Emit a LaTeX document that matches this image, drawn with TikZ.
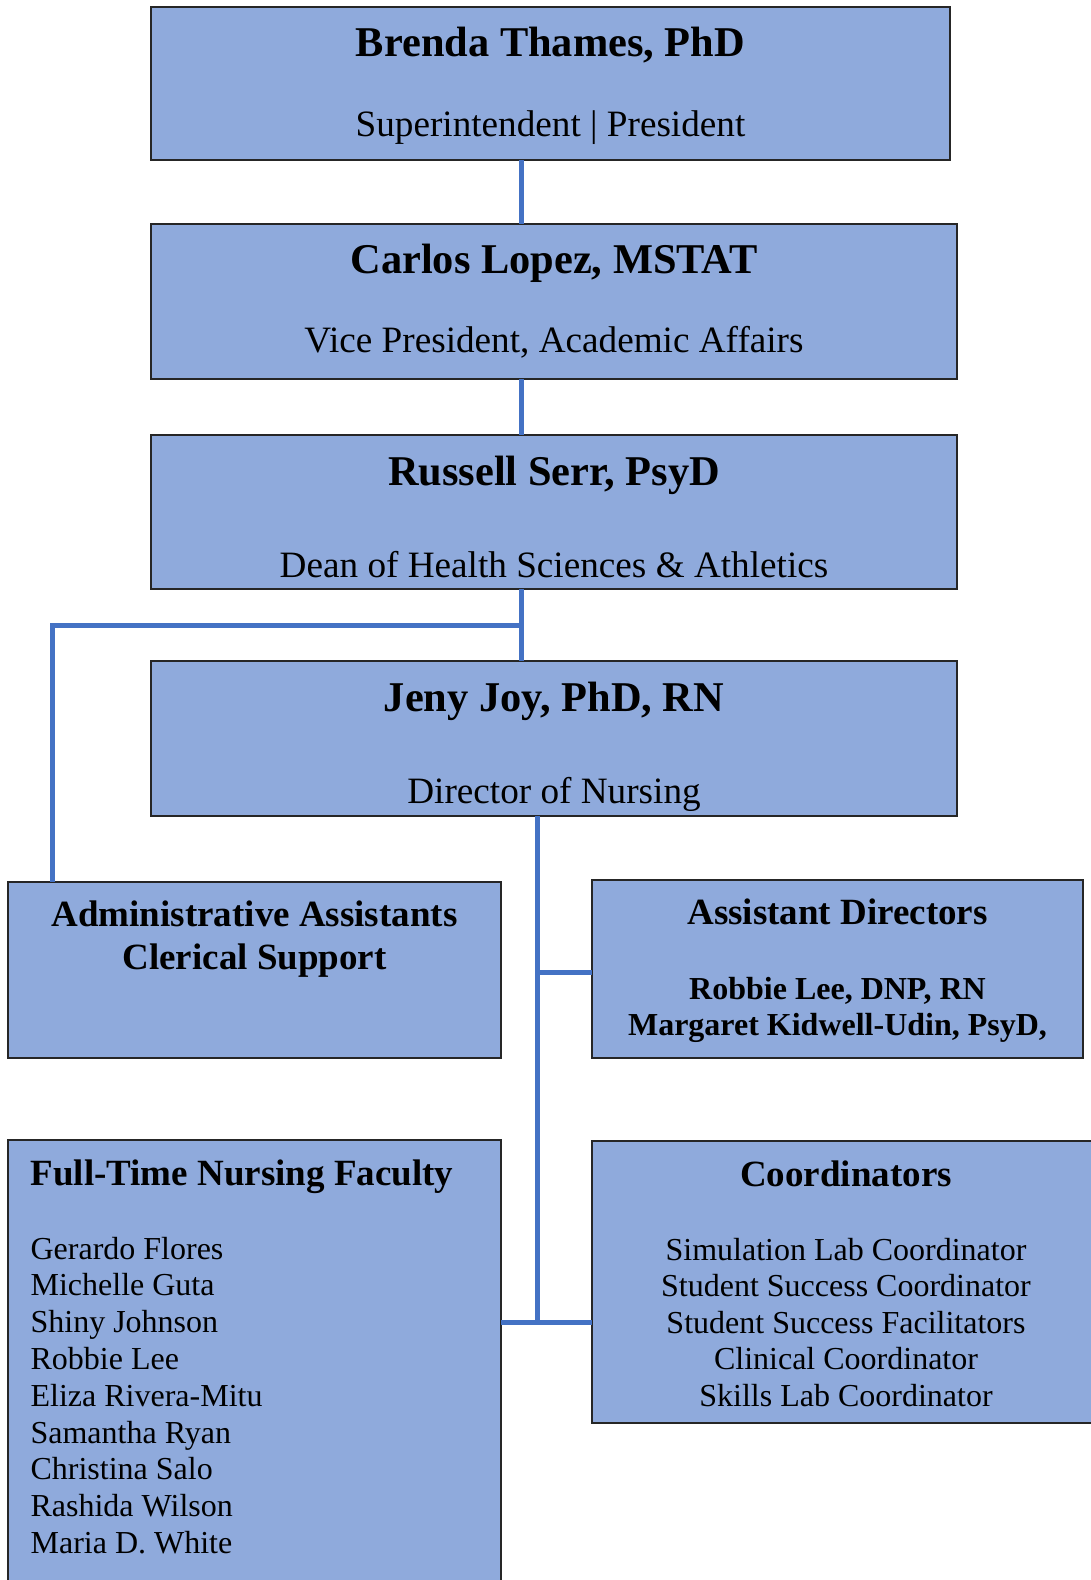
\documentclass[tikz,border=0pt]{standalone}
\usepackage{fontspec}
\setmainfont{Liberation Serif}
\definecolor{boxblue}{HTML}{8FAADC}
\definecolor{linkblue}{HTML}{4472C4}
\begin{document}
\begin{tikzpicture}[
            x=0.5pt, y=-0.5pt,
            unit/.style={rectangle, draw=black!85, line width=0.6pt, fill=boxblue,
                         anchor=north west, inner sep=0pt, outer sep=0pt},
            link/.style={draw=linkblue, line width=2.5pt},
            head/.style={font=\fontsize{21.2}{25}\selectfont\bfseries, anchor=base},
            role/.style={font=\fontsize{18.6}{22}\selectfont, anchor=base},
            group/.style={font=\fontsize{18.5}{22}\selectfont\bfseries, anchor=base},
            member/.style={font=\fontsize{16}{19}\selectfont, anchor=base, inner sep=0pt}
        ]
        \useasboundingbox (0,0) rectangle (1091,1580);
        % boxes
        \node[unit, minimum width=399.5pt, minimum height=76.5pt] (brenda) at (151,7) {};
        \node[unit, minimum width=403pt, minimum height=77.5pt] (carlos) at (151,224) {};
        \node[unit, minimum width=403pt, minimum height=77pt] (russell) at (151,435) {};
        \node[unit, minimum width=403pt, minimum height=77.5pt] (jeny) at (151,661) {};
        \node[unit, minimum width=246.5pt, minimum height=88pt] (admin) at (8,882) {};
        \node[unit, minimum width=245.5pt, minimum height=89pt] (asstdir) at (592,880) {};
        \node[unit, minimum width=246.5pt, minimum height=230pt] (faculty) at (8,1140) {};
        \node[unit, minimum width=254pt, minimum height=141pt] (coord) at (592,1141) {};

        % connectors
        \coordinate (spine) at (521,0);
        \coordinate (branch) at (52.4,625.6);
        \coordinate (spinetwo) at (537,0);
        \coordinate (tap) at (537,972);
        \coordinate (join) at (537,1322);
        \draw[link] (spine |- brenda.south) -- (spine |- carlos.north);
        \draw[link] (spine |- carlos.south) -- (spine |- russell.north);
        \draw[link] (spine |- russell.south) -- (spine |- jeny.north);
        \draw[link] (spine |- branch) -- (branch) -- (branch |- admin.north);
        \draw[link] (spinetwo |- jeny.south) -- (join);
        \draw[link] (tap) -- (tap -| asstdir.west);
        \draw[link] (join -| faculty.east) -- (join -| coord.west);

        % texts
        \node[head] (brendaname) at (550.5,56) {Brenda Thames, PhD};
        \node[role] (brendarole) at (550.5,136) {Superintendent | President};
        \node[head] (carlosname) at (554,273) {Carlos Lopez, MSTAT};
        \node[role] (carlosrole) at (554,352.5) {Vice President, Academic Affairs};
        \node[head] (russellname) at (554,485.5) {Russell Serr, PsyD};
        \node[role] (russellrole) at (554,577) {Dean of Health Sciences \& Athletics};
        \node[head] (jenyname) at (554,711) {Jeny Joy, PhD, RN};
        \node[role] (jenyrole) at (554,803) {Director of Nursing};
        \node[group] (admintop) at (254.5,926) {Administrative Assistants};
        \node[group] (adminsub) at (254.5,969) {Clerical Support};
        \node[group] (asstdirtop) at (837.5,924) {Assistant Directors};
        \node[member, font=\fontsize{16}{19}\selectfont\bfseries] (asstlee) at (837.5,999) {Robbie Lee, DNP, RN};
        \node[member, font=\fontsize{16}{19}\selectfont\bfseries] (asstkid) at (837.5,1035.5) {Margaret Kidwell-Udin, PsyD,};
        \node[group, anchor=base west, inner sep=0pt] (facultytop) at (30.2,1185) {Full-Time Nursing Faculty};
        \foreach \who [count=\i from 0] in {Gerardo Flores, Michelle Guta, Shiny Johnson, Robbie Lee,
                Eliza Rivera-Mitu, Samantha Ryan, Christina Salo, Rashida Wilson, Maria D. White}
            \node[member, anchor=base west] (fac\i) at (30.2,1259+36.8*\i) {\who};
        \node[group] (coordtop) at (846,1186) {Coordinators};
        \foreach \job [count=\i from 0] in {Simulation Lab Coordinator, Student Success Coordinator,
                Student Success Facilitators, Clinical Coordinator, Skills Lab Coordinator}
            \node[member] (job\i) at (846,1260+36.5*\i) {\job};
\end{tikzpicture}
\end{document}
